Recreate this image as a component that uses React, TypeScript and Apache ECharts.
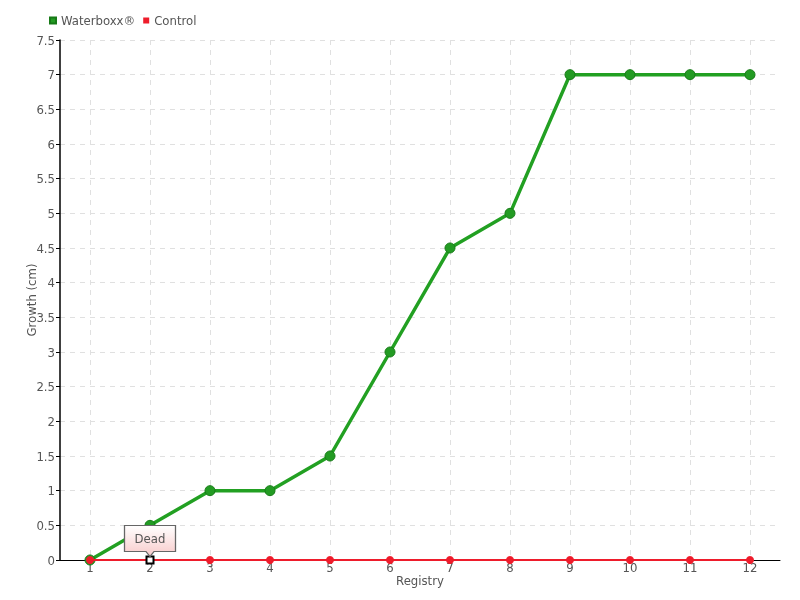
import React, { useEffect, useRef } from "react";
import * as echarts from "echarts";

const categories = ["1", "2", "3", "4", "5", "6", "7", "8", "9", "10", "11", "12"];
const waterboxxValues = [0, 0.5, 1, 1, 1.5, 3, 4.5, 5, 7, 7, 7, 7];
const controlValues = [0, 0, 0, 0, 0, 0, 0, 0, 0, 0, 0, 0];
const deadIndex = 1;
const deadLabel = "Dead";

const FONT = "'Liberation Sans Narrow', 'DejaVu Sans Condensed', 'DejaVu Sans', sans-serif";

export default function App() {
  const ref = useRef<HTMLDivElement>(null);
  useEffect(() => {
    if (!ref.current) return;
    const chart = echarts.init(ref.current, undefined, { renderer: "svg" });
    const controlData = controlValues.map((v, i) =>
      i === deadIndex
        ? {
            value: v,
            symbol: "rect",
            symbolSize: 7,
            itemStyle: { color: "#ffffff", borderColor: "#000000", borderWidth: 2 },
          }
        : v
    );
    chart.setOption({
      animation: false,
      textStyle: { fontFamily: FONT },
      legend: {
        left: 44,
        top: 9,
        itemWidth: 6,
        itemHeight: 6,
        itemGap: 8,
        icon: "rect",
        textStyle: { fontSize: 13, color: "#555", fontFamily: FONT },
        data: ["Waterboxx®", "Control"],
      },
      grid: { left: 60, right: 20, top: 40, bottom: 40, containLabel: false },
      xAxis: {
        type: "category",
        data: categories,
        boundaryGap: true,
        name: "Registry",
        nameLocation: "middle",
        nameGap: 14,
        nameMoveOverlap: false,
        nameTextStyle: { fontSize: 13, color: "#555", fontFamily: FONT },
        axisLine: { lineStyle: { color: "#000", width: 1 } },
        axisTick: { show: false },
        axisLabel: { margin: 1, fontSize: 13, color: "#555", fontFamily: FONT },
        splitLine: {
          show: true,
          alignWithLabel: true,
          lineStyle: { color: "#e0e0e0", type: [5, 5] },
        },
      },
      yAxis: {
        type: "value",
        min: 0,
        max: 7.5,
        interval: 0.5,
        name: "Growth (cm)",
        nameLocation: "middle",
        nameGap: 22,
        nameMoveOverlap: false,
        nameTextStyle: { fontSize: 13, color: "#555", fontFamily: FONT },
        axisLine: { show: true, lineStyle: { color: "#000", width: 1.5 } },
        axisTick: { show: true, length: 4, lineStyle: { color: "#000" } },
        axisLabel: { margin: 5, fontSize: 13, color: "#555", fontFamily: FONT },
        splitLine: { show: true, lineStyle: { color: "#e0e0e0", type: [5, 5] } },
      },
      series: [
        {
          name: "Waterboxx®",
          type: "line",
          data: waterboxxValues,
          color: "#1f9e1f",
          lineStyle: { color: "#22a022", width: 3.5 },
          symbol: "circle",
          symbolSize: 10,
          itemStyle: { color: "#239b23", borderColor: "#177a17", borderWidth: 1 },
          z: 3,
        },
        {
          name: "Control",
          type: "line",
          data: controlData,
          color: "#ee1c2b",
          lineStyle: { color: "#ee1c2b", width: 2 },
          symbol: "circle",
          symbolSize: 8,
          itemStyle: { color: "#ee1c2b" },
          z: 4,
          markPoint: {
            silent: true,
            data: [
              {
                coord: [deadIndex, controlValues[deadIndex]],
                value: deadLabel,
              },
            ],
            symbol: "path://M0,0 H50 V26 H29 L25,31 L21,26 H0 Z",
            symbolSize: [51, 31],
            symbolOffset: [0, -19],
            symbolKeepAspect: false,
            itemStyle: {
              color: {
                type: "linear",
                x: 0,
                y: 0,
                x2: 0,
                y2: 1,
                colorStops: [
                  { offset: 0, color: "#ffffff" },
                  { offset: 1, color: "#f8caca" },
                ],
              },
              borderColor: "#666",
              borderWidth: 1,
            },
            label: {
              show: true,
              position: "inside",
              offset: [0, -3],
              formatter: deadLabel,
              fontSize: 13,
              color: "#555",
              fontFamily: FONT,
            },
          },
        },
      ],
    });
    return () => chart.dispose();
  }, []);
  return (
    <div
      ref={ref}
      style={{ position: "fixed", left: 0, top: 0, width: 800, height: 600 }}
    />
  );
}
